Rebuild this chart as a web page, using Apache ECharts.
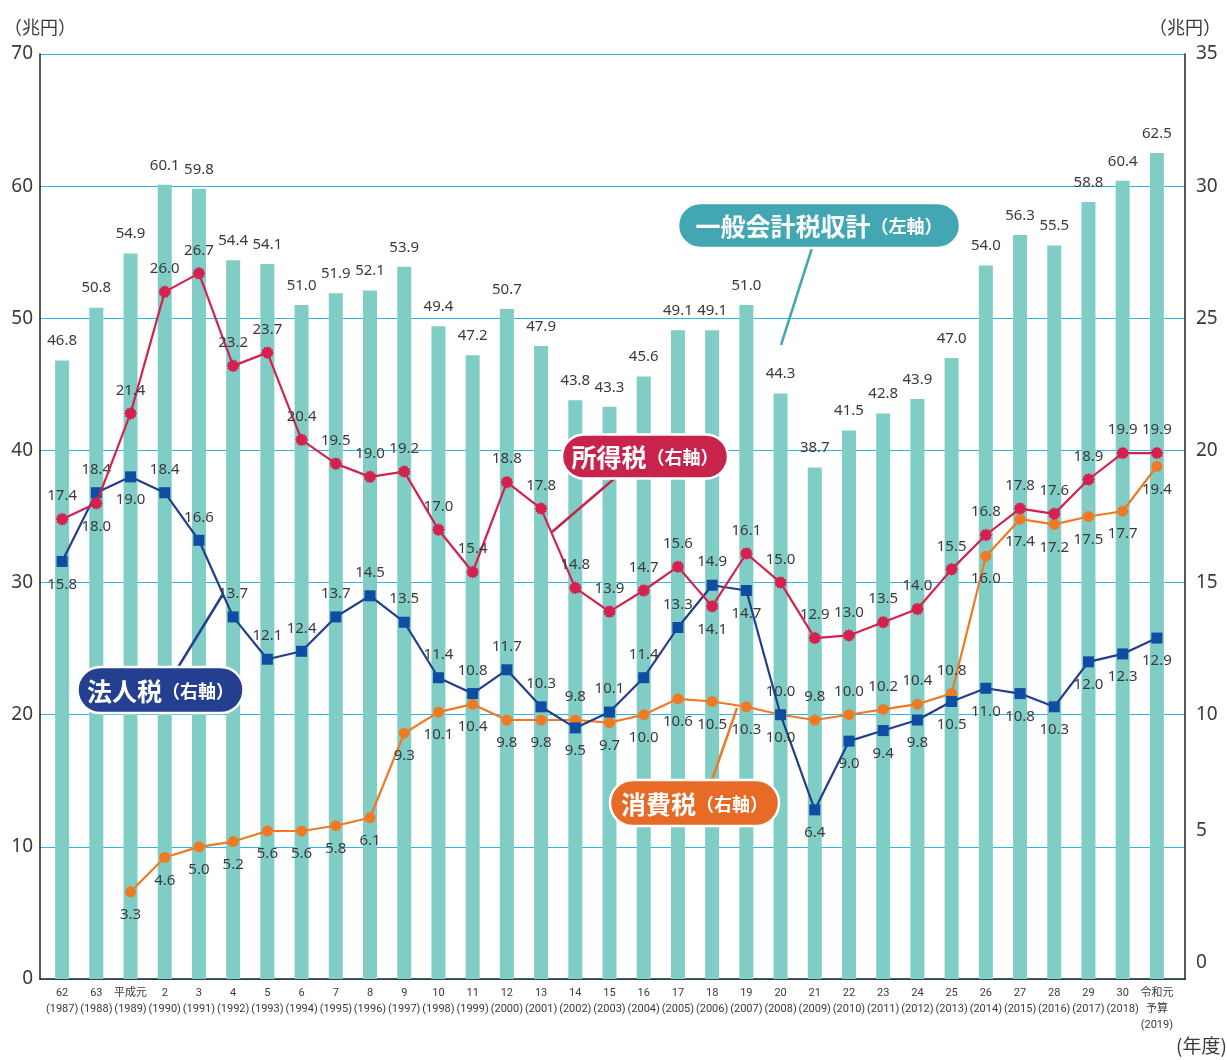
<!DOCTYPE html>
<html>
<head>
<meta charset="utf-8">
<script src="https://cdn.jsdelivr.net/npm/echarts@6/dist/echarts.min.js"></script>
<style>
html,body{margin:0;padding:0;background:#fff;}
#chart{width:1227px;height:1060px;}
</style>
</head>
<body>
<div id="chart"></div>
<script>
// ---- data ----
const categories = ['62\n(1987)','63\n(1988)','平成元\n(1989)','2\n(1990)','3\n(1991)','4\n(1992)','5\n(1993)','6\n(1994)','7\n(1995)','8\n(1996)','9\n(1997)','10\n(1998)','11\n(1999)','12\n(2000)','13\n(2001)','14\n(2002)','15\n(2003)','16\n(2004)','17\n(2005)','18\n(2006)','19\n(2007)','20\n(2008)','21\n(2009)','22\n(2010)','23\n(2011)','24\n(2012)','25\n(2013)','26\n(2014)','27\n(2015)','28\n(2016)','29\n(2017)','30\n(2018)','令和元\n予算\n(2019)'];
const totalTax = [46.8,50.8,54.9,60.1,59.8,54.4,54.1,51.0,51.9,52.1,53.9,49.4,47.2,50.7,47.9,43.8,43.3,45.6,49.1,49.1,51.0,44.3,38.7,41.5,42.8,43.9,47.0,54.0,56.3,55.5,58.8,60.4,62.5];
const incomeTax = [17.4,18.0,21.4,26.0,26.7,23.2,23.7,20.4,19.5,19.0,19.2,17.0,15.4,18.8,17.8,14.8,13.9,14.7,15.6,14.1,16.1,15.0,12.9,13.0,13.5,14.0,15.5,16.8,17.8,17.6,18.9,19.9,19.9];
const corporateTax = [15.8,18.4,19.0,18.4,16.6,13.7,12.1,12.4,13.7,14.5,13.5,11.4,10.8,11.7,10.3,9.5,10.1,11.4,13.3,14.9,14.7,10.0,6.4,9.0,9.4,9.8,10.5,11.0,10.8,10.3,12.0,12.3,12.9];
const consumptionTax = [null,null,3.3,4.6,5.0,5.2,5.6,5.6,5.8,6.1,9.3,10.1,10.4,9.8,9.8,9.8,9.7,10.0,10.6,10.5,10.3,10.0,9.8,10.0,10.2,10.4,10.8,16.0,17.4,17.2,17.5,17.7,19.4];
const leftTicks = [0,10,20,30,40,50,60,70];
const rightTicks = [0,5,10,15,20,25,30,35];

// ---- label placement (indices whose label sits below / above the point) ----
const incomeBelow = new Set([1,19]);
const corporateBelow = new Set([0,2,15,20,21,22,23,24,25,26,27,28,29,30,31,32]);
const consumptionAbove = new Set([15,21,22,23,24,25,26]);

const TXT = '#3a3a3a';
const NUMFONT = '"Noto Sans", "Open Sans", sans-serif';
const CJK = '"Noto Sans CJK JP", "Noto Sans", sans-serif';

// starburst symbol for income tax
function starburst(n, inner){
  let s = 'path://';
  for(let k=0;k<n*2;k++){
    const r = k%2 ? inner : 1;
    const a = k*Math.PI/n - Math.PI/2;
    s += (k===0?'M':'L') + (r*Math.cos(a)).toFixed(3) + ' ' + (r*Math.sin(a)).toFixed(3) + ' ';
  }
  return s + 'Z';
}
const burst = starburst(12, 0.8);

function lineData(arr, isBelow){
  return arr.map((v,i)=>({
    value: v,
    label: { position: isBelow(i) ? 'bottom' : 'top' }
  }));
}

const chart = echarts.init(document.getElementById('chart'), null, {renderer:'canvas'});

function pill(cx, cy, w, h, color, big, small, bigSize, smallSize){
  return {
    type:'group',
    z: 100,
    children:[
      {type:'rect', z:100, shape:{x:cx-w/2, y:cy-h/2, width:w, height:h, r:h/2},
       style:{fill:color, stroke:'#fff', lineWidth:2.5}},
      {type:'text', z:101, x:cx, y:cy+1,
       style:{text:'{a|'+big+'}{b|'+small+'}', align:'center', verticalAlign:'middle',
         rich:{
           a:{fontSize:bigSize, fontFamily:CJK, fontWeight:'bold', fill:'#fff'},
           b:{fontSize:smallSize, fontFamily:CJK, fontWeight:'bold', fill:'#fff'}
         }}}
    ]
  };
}
function leader(x1,y1,x2,y2,color){
  return {type:'line', z:99, shape:{x1,y1,x2,y2}, style:{stroke:color, lineWidth:2.5}};
}

const option = {
  backgroundColor:'#fff',
  animation:false,
  grid:[
    {left:40, right:42, top:54, bottom:81},
    {left:45, right:53, top:54, bottom:81}
  ],
  xAxis:[
    {gridIndex:0, type:'value', min:0, max:1,
      axisLine:{show:true, onZero:false, lineStyle:{color:'#222', width:1.5}},
      axisTick:{show:false}, axisLabel:{show:false}, splitLine:{show:false}},
    {gridIndex:1, type:'category', data:categories, boundaryGap:true,
      axisLine:{show:false}, axisTick:{show:false}, splitLine:{show:false},
      axisLabel:{interval:0, margin:6, color:TXT, fontSize:11, lineHeight:16,
        fontFamily:'"Liberation Sans Narrow", Roboto, "Noto Sans CJK JP", sans-serif'}}
  ],
  yAxis:[
    {gridIndex:0, type:'value', position:'left', min:leftTicks[0], max:leftTicks[leftTicks.length-1], interval:leftTicks[1]-leftTicks[0],
      name:'（兆円）', nameLocation:'end', nameGap:18,
      nameTextStyle:{color:TXT, fontSize:18, fontFamily:CJK, align:'center'},
      axisLine:{show:true, lineStyle:{color:'#222', width:1.5}},
      axisTick:{show:false},
      axisLabel:{color:TXT, fontSize:19, fontFamily:NUMFONT, margin:7},
      splitLine:{show:true, lineStyle:{color:'#2bb5e8', width:1.2}}},
    {gridIndex:0, type:'value', position:'right', min:rightTicks[0], max:rightTicks[rightTicks.length-1], interval:rightTicks[1]-rightTicks[0],
      name:'（兆円）', nameLocation:'end', nameGap:18,
      nameTextStyle:{color:TXT, fontSize:18, fontFamily:CJK, align:'center'},
      axisLine:{show:true, lineStyle:{color:'#222', width:1.5}},
      axisTick:{show:false},
      axisLabel:{color:TXT, fontSize:19, fontFamily:NUMFONT, margin:11,
        formatter:(v)=> (v<=5 ? '{s|'+v+'}' : '{n|'+v+'}'),
        rich:{ s:{fontSize:19, fontFamily:NUMFONT, color:TXT, padding:[0,0,32,0]},
               n:{fontSize:19, fontFamily:NUMFONT, color:TXT} }},
      splitLine:{show:false}},
    {gridIndex:1, type:'value', min:leftTicks[0], max:leftTicks[leftTicks.length-1], show:false, splitLine:{show:false}},
    {gridIndex:1, type:'value', min:rightTicks[0], max:rightTicks[rightTicks.length-1], show:false, splitLine:{show:false}}
  ],
  series:[
    {name:'一般会計税収計', type:'bar', xAxisIndex:1, yAxisIndex:2, data:totalTax, barWidth:14,
      itemStyle:{color:'#80cdc5'},
      label:{show:true, position:'top', distance:12, color:TXT, fontSize:15, fontFamily:NUMFONT,
        formatter:(p)=>p.value.toFixed(1)}, z:1},
    {name:'消費税', type:'line', xAxisIndex:1, yAxisIndex:3,
      data:lineData(consumptionTax, i=>!consumptionAbove.has(i)),
      symbol:'circle', symbolSize:11, connectNulls:false,
      lineStyle:{color:'#f07a24', width:2.2}, itemStyle:{color:'#f07a24'},
      label:{show:true, distance:10, color:TXT, fontSize:15, fontFamily:NUMFONT,
        formatter:(p)=>p.value==null?'':Number(p.value).toFixed(1)}, z:3},
    {name:'法人税', type:'line', xAxisIndex:1, yAxisIndex:3,
      data:lineData(corporateTax, i=>corporateBelow.has(i)),
      symbol:'rect', symbolSize:11,
      lineStyle:{color:'#233d8e', width:2.2}, itemStyle:{color:'#0e4da1'},
      label:{show:true, distance:10, color:TXT, fontSize:15, fontFamily:NUMFONT,
        formatter:(p)=>Number(p.value).toFixed(1)}, z:4},
    {name:'所得税', type:'line', xAxisIndex:1, yAxisIndex:3,
      data:lineData(incomeTax, i=>incomeBelow.has(i)),
      symbol:burst, symbolSize:13,
      lineStyle:{color:'#d5214f', width:2.2}, itemStyle:{color:'#d5214f'},
      label:{show:true, distance:9, color:TXT, fontSize:15, fontFamily:NUMFONT,
        formatter:(p)=>Number(p.value).toFixed(1)}, z:5}
  ],
  graphic:[
    leader(812,248,781,345,'#42a7b3'),
    pill(819,225.5,282,45,'#42a7b3','一般会計税収計','（左軸）',25,18),
    leader(615,478,552,532,'#c8244b'),
    pill(645,456.5,166,44,'#c8244b','所得税','（右軸）',25,18),
    leader(177,669,223,594,'#243f90'),
    pill(160.5,690,166,46,'#243f90','法人税','（右軸）',25,18),
    leader(712,780,737,708,'#f07a24'),
    pill(694.5,803,169,46,'#e76a26','消費税','（右軸）',25,18),
    {type:'text', left:1176, top:1036, z:100,
      style:{text:'(年度)', fontSize:19, fontFamily:CJK, fill:TXT}}
  ]
};
chart.setOption(option);
</script>
</body>
</html>
